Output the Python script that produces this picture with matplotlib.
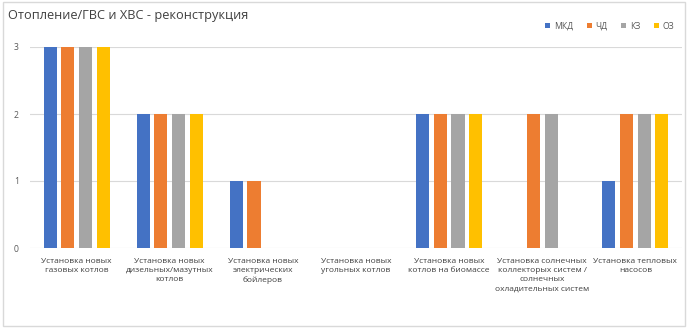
import matplotlib
matplotlib.use("Agg")
import matplotlib.pyplot as plt
import numpy as np
from matplotlib.patches import Rectangle

plt.rcParams['font.family'] = ['Open Sans', 'DejaVu Sans']

categories = [
    "Установка новых\nгазовых котлов",
    "Установка новых\nдизельных/мазутных\nкотлов",
    "Установка новых\nэлектрических\nбойлеров",
    "Установка новых\nугольных котлов",
    "Установка новых\nкотлов на биомассе",
    "Установка солнечных\nколлекторых систем /\nсолнечных\nохладительных систем",
    "Установка тепловых\nнасосов",
]
series_names = ["МКД", "ЧД", "КЗ", "ОЗ"]
mkd = [3, 2, 1, 0, 2, 0, 1]
chd = [3, 2, 1, 0, 2, 2, 2]
kz = [3, 2, 0, 0, 2, 2, 2]
oz = [3, 2, 0, 0, 2, 0, 2]
colors = ["#4472C4", "#ED7D31", "#A5A5A5", "#FFC000"]
title = "Отопление/ГВС и ХВС - реконструкция"

fig = plt.figure(figsize=(6.88, 3.28), dpi=100)
fig.patches.append(Rectangle((0.004, 0.006), 0.992, 0.988, transform=fig.transFigure,
                             fill=False, edgecolor="#D9D9D9", linewidth=1.0))
ax = fig.add_axes([30 / 688, 1 - 248 / 328, 652 / 688, 201 / 328])

x = np.arange(len(categories))
step = 0.19
width = 0.14
for i, (vals, name, c) in enumerate(zip([mkd, chd, kz, oz], series_names, colors)):
    ax.bar(x + (i - 1.5) * step, vals, width=width, color=c, label=name, zorder=3)

ax.set_xlim(-0.5, len(categories) - 0.5)
ax.set_ylim(0, 3)
ax.set_yticks([0, 1, 2, 3])
ax.grid(axis="y", color="#D9D9D9", linewidth=0.8, zorder=0)
for s in ax.spines.values():
    s.set_visible(False)
ax.tick_params(axis="both", length=0, labelsize=6.2, colors="#595959")
ax.tick_params(axis="y", pad=8)
ax.set_xticks(x)
ax.set_xticklabels(categories, fontsize=6.05, color="#404040", linespacing=1.45)
ax.tick_params(axis="x", pad=7)

fig.text(8 / 688, 1 - 16 / 328, title, fontsize=9.2, color="#404040", va="center")
ax.legend(loc="upper right", bbox_to_anchor=(1.0, 1 + 33 / 201), ncol=4, frameon=False,
          fontsize=6.2, handlelength=0.6, handleheight=0.6, handletextpad=0.4,
          columnspacing=1.6, labelcolor="#595959")

fig.savefig("out.png", dpi=100)
